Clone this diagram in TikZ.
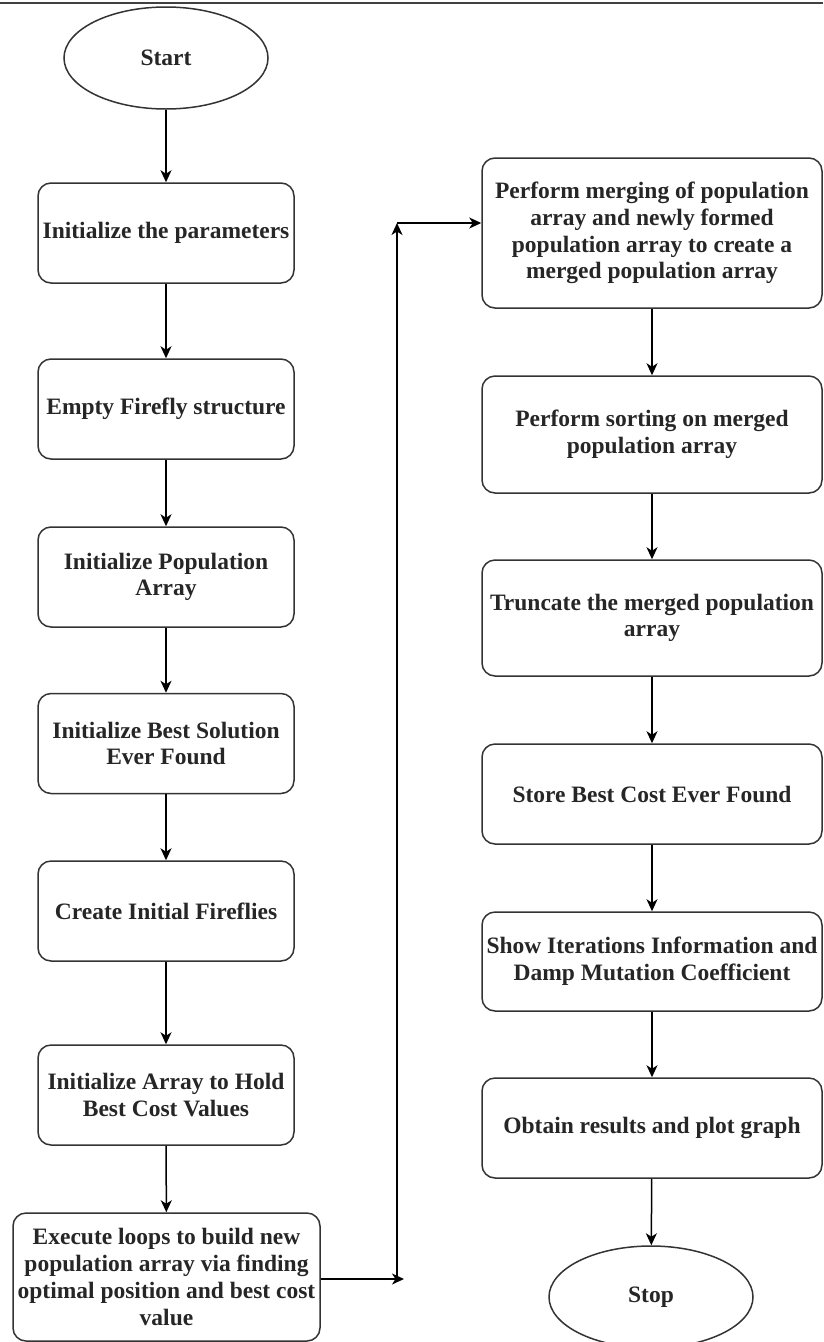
\documentclass[tikz,border=0pt]{standalone}
\usepackage{fontspec}
\setmainfont{Liberation Serif}
\usetikzlibrary{arrows.meta,shapes.geometric}

\tikzset{
  procbox/.style={draw=black!80, line width=1.5pt, rounded corners=13pt,
    align=center, inner sep=1pt, font=\bfseries\fontsize{23.5}{26.7}\selectfont, text=black!85},
  leftbox/.style={procbox, minimum width=256pt, minimum height=100pt},
  rightbox/.style={procbox, minimum width=340pt},
  terminal/.style={draw=black!80, line width=1.5pt, ellipse, minimum width=204pt,
    minimum height=102pt, inner sep=0pt, font=\bfseries\fontsize{23.5}{26.7}\selectfont, text=black!85},
  flow/.style={draw=black, line width=1.5pt, -{Stealth[length=12pt,width=11pt,inset=3.5pt]}}
}

\begin{document}
\begin{tikzpicture}[x=1pt,y=-1pt]
\useasboundingbox (0,0) rectangle (823,1342);

% page rule at the top
\draw[line width=2pt, black!75] (0,3) -- (823,3);

% left column
\node[terminal] (start) at (166,58) {Start};
\node[leftbox] (p1) at (166,233) {Initialize the parameters};
\node[leftbox] (p2) at (166,409) {Empty Firefly structure};
\node[leftbox] (p3) at (166,577) {Initialize Population\\Array};
\node[leftbox] (p4) at (166,743.5) {Initialize Best Solution\\Ever Found};
\node[leftbox] (p5) at (166,911) {Create Initial Fireflies};
\node[leftbox] (p6) at (166,1095) {Initialize Array to Hold\\Best Cost Values};
\node[procbox, minimum width=307pt, minimum height=128pt] (p7) at (166.5,1277)
  {Execute loops to build new\\population array via finding\\optimal position and best cost\\value};

% right column
\node[rightbox, minimum height=150pt] (q1) at (652,233)
  {Perform merging of population\\array and newly formed\\population array to create a\\merged population array};
\node[rightbox, minimum height=117pt] (q2) at (652,434.5) {Perform sorting on merged\\population array};
\node[rightbox, minimum height=116pt] (q3) at (652,618) {Truncate the merged population\\array};
\node[rightbox, minimum height=100pt] (q4) at (652,794) {Store Best Cost Ever Found};
\node[rightbox, minimum height=99pt] (q5) at (652,961.5) {Show Iterations Information and\\Damp Mutation Coefficient};
\node[rightbox, minimum height=100pt] (q6) at (652,1128) {Obtain results and plot graph};
\node[terminal] (stop) at (651,1297) {Stop};

% connectors, left column
\draw[flow] (start) -- (p1);
\draw[flow] (p1) -- (p2);
\draw[flow] (p2) -- (p3);
\draw[flow] (p3) -- (p4);
\draw[flow] (p4) -- (p5);
\draw[flow] (p5) -- (p6);
\draw[flow] (p6) -- (p7);

% loop across to the right column
\coordinate (loopbot) at (397,1279);
\coordinate (looptip) at (404,1279);
\coordinate (looptop) at (397,223);
\draw[flow] (p7.east |- loopbot) -- (looptip);
\draw[flow] (loopbot) -- (looptop);
\draw[flow] (looptop) -- (q1.west |- looptop);

% connectors, right column
\draw[flow] (q1) -- (q2);
\draw[flow] (q2) -- (q3);
\draw[flow] (q3) -- (q4);
\draw[flow] (q4) -- (q5);
\draw[flow] (q5) -- (q6);
\draw[flow] (q6) -- (stop);
\end{tikzpicture}
\end{document}
